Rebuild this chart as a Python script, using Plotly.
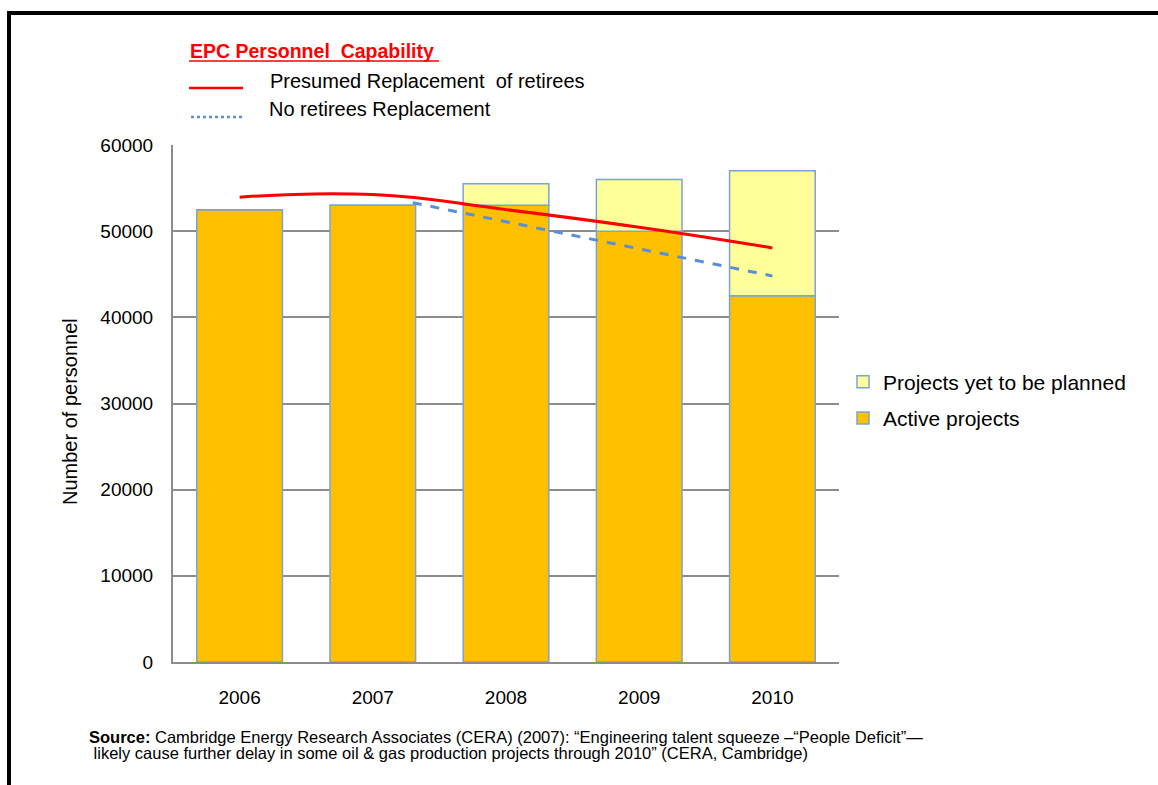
import plotly.graph_objects as go

years = [2006, 2007, 2008, 2009, 2010]
active = [52500, 53000, 53000, 50000, 42500]
total = [52500, 53000, 55500, 56000, 57000]
yet_to_plan = [t - a for t, a in zip(total, active)]

red_x = [2006, 2007, 2008, 2009, 2010]
red_y = [53950, 54250, 52500, 50450, 48050]

blue_x = [2007.3, 2010]
blue_y = [53300, 44800]

y_ticks = [0, 10000, 20000, 30000, 40000, 50000, 60000]

W, H = 1158, 785
L, R, T, B = 173, 839, 145, 662


def px(x):
    return (x - L) / (R - L)


def py(y):
    return (B - y) / (B - T)


BAR_LINE = "#7AA3DA"
FONT = "Liberation Sans, Arial, sans-serif"

fig = go.Figure()
fig.add_trace(go.Bar(
    x=years, y=active, name="Active projects",
    marker=dict(color="#FFC000", line=dict(color=BAR_LINE, width=1.5)),
    width=0.643, legendgroup="a", legendrank=2,
))
fig.add_trace(go.Bar(
    x=years, y=yet_to_plan, base=active, name="Projects yet to be planned",
    marker=dict(color="#FFFF99", line=dict(color=BAR_LINE, width=1.5)),
    width=0.643, legendgroup="b", legendrank=1,
))
fig.add_trace(go.Scatter(
    x=red_x, y=red_y, mode="lines", showlegend=False,
    line=dict(color="#FF0000", width=3, shape="spline", smoothing=1.3),
))
fig.add_trace(go.Scatter(
    x=blue_x, y=blue_y, mode="lines", showlegend=False,
    line=dict(color="#5A8ED6", width=3, dash="dash"),
))

shapes = [
    dict(type="line", xref="paper", yref="paper", x0=px(7), x1=px(1160), y0=py(13), y1=py(13),
         line=dict(color="black", width=4)),
    dict(type="line", xref="paper", yref="paper", x0=px(9), x1=px(9), y0=py(11), y1=py(790),
         line=dict(color="black", width=4)),
    dict(type="line", xref="paper", yref="paper", x0=px(189), x1=px(439), y0=py(61), y1=py(61),
         line=dict(color="#FF0000", width=1.5)),
    dict(type="line", xref="paper", yref="paper", x0=px(189), x1=px(243), y0=py(88), y1=py(88),
         line=dict(color="#FF0000", width=2.5)),
    dict(type="line", xref="paper", yref="paper", x0=px(191), x1=px(243), y0=py(117), y1=py(117),
         line=dict(color="#5A8ED6", width=2.5, dash="dot")),
]

annotations = [
    dict(text="<b>EPC Personnel  Capability</b>", x=px(188), y=py(51), xref="paper", yref="paper",
         xanchor="left", yanchor="middle", showarrow=False,
         font=dict(family=FONT, size=19.5, color="#FF0000")),
    dict(text="Presumed Replacement  of retirees", x=px(268), y=py(81), xref="paper", yref="paper",
         xanchor="left", yanchor="middle", showarrow=False,
         font=dict(family=FONT, size=20, color="black")),
    dict(text="No retirees Replacement", x=px(267), y=py(109), xref="paper", yref="paper",
         xanchor="left", yanchor="middle", showarrow=False,
         font=dict(family=FONT, size=20, color="black")),
    dict(text="Number of personnel", x=px(70), y=py(411), xref="paper", yref="paper",
         xanchor="center", yanchor="middle", showarrow=False, textangle=-90,
         font=dict(family=FONT, size=20, color="black")),
    dict(text="<b>Source:</b> Cambridge Energy Research Associates (CERA) (2007): \u201cEngineering talent squeeze \u2013\u201cPeople Deficit\u201d\u2014",
         x=px(87), y=py(737), xref="paper", yref="paper",
         xanchor="left", yanchor="middle", showarrow=False,
         font=dict(family=FONT, size=16.5, color="black")),
    dict(text=" likely cause further delay in some oil & gas production projects through 2010\u201d (CERA, Cambridge)",
         x=px(87), y=py(753), xref="paper", yref="paper",
         xanchor="left", yanchor="middle", showarrow=False,
         font=dict(family=FONT, size=16.5, color="black")),
]

fig.update_layout(
    width=W, height=H,
    margin=dict(l=L, r=W - R, t=T, b=H - B, autoexpand=False),
    paper_bgcolor="white", plot_bgcolor="white",
    barmode="overlay",
    showlegend=True,
    legend=dict(x=px(843), y=py(400), xanchor="left", yanchor="middle",
                traceorder="grouped", tracegroupgap=6,
                font=dict(family=FONT, size=21, color="black"),
                itemwidth=30, bgcolor="rgba(0,0,0,0)"),
    shapes=shapes,
    annotations=annotations,
    font=dict(family=FONT, color="black"),
)

fig.update_xaxes(
    range=[2005.5, 2010.5], tickmode="array", tickvals=years, ticktext=[str(y) for y in years],
    showgrid=False, zeroline=False, showline=True, linecolor="#8C8C8C", linewidth=2,
    ticks="", ticklabelstandoff=17,
    tickfont=dict(family=FONT, size=19, color="black"),
)
fig.update_yaxes(
    range=[0, 60000], tickmode="array", tickvals=y_ticks, ticktext=[str(v) for v in y_ticks],
    showgrid=True, gridcolor="#8C8C8C", gridwidth=1.5, zeroline=False,
    showline=True, linecolor="#8C8C8C", linewidth=2, mirror=False,
    ticks="", ticklabelstandoff=14,
    tickfont=dict(family=FONT, size=19, color="black"),
)

fig.write_html("out.html")
